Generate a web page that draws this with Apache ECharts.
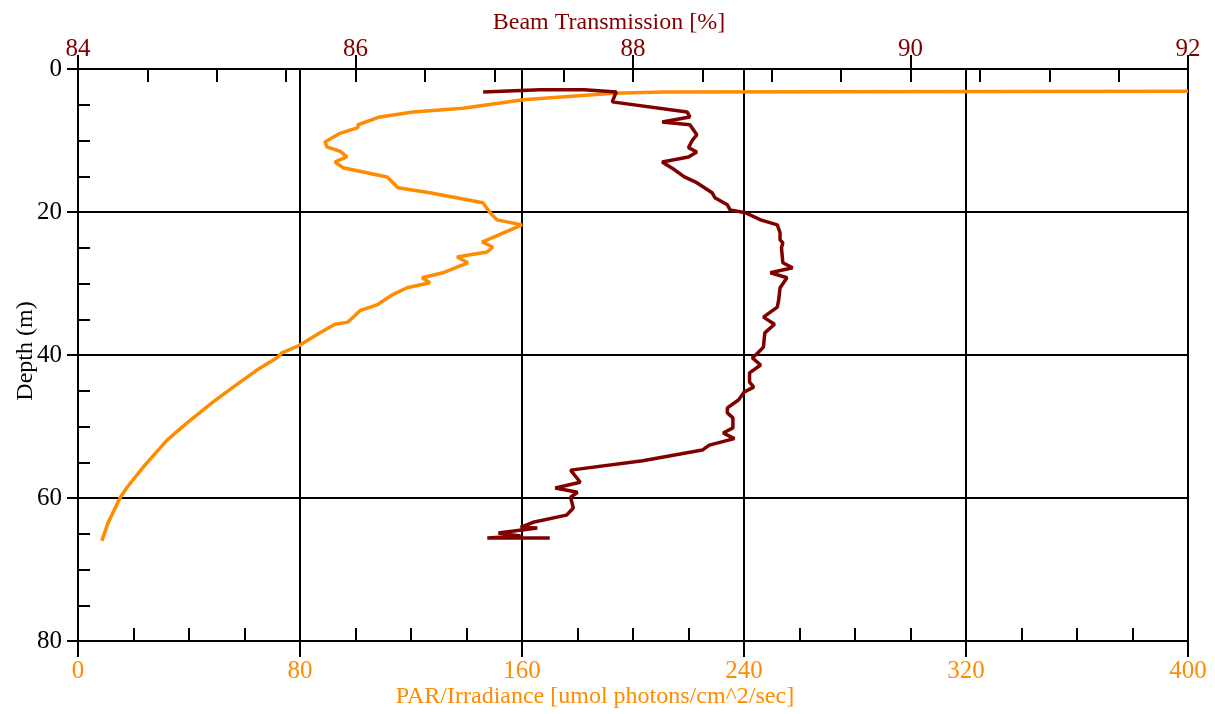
<!DOCTYPE html>
<html lang="en">
<head>
    <meta charset="UTF-8">
    <title>Depth profile</title>
    <script src="https://cdn.jsdelivr.net/npm/echarts@6.0.0/dist/echarts.min.js"></script>
    <style>
        html, body { margin: 0; padding: 0; background: #fff; }
        #chart { width: 1215px; height: 714px; }
    </style>
</head>
<body>
    <div id="chart"></div>
    <script>
        // PAR / irradiance profile (bottom axis)
        const parDepth = [3.1, 3.2, 3.4, 4.3, 5.5, 6.0, 6.7, 7.8, 8.2, 9.0, 10.2, 10.9, 11.5, 12.3, 13.0, 13.8,
            15.1, 16.6, 17.3, 18.7, 20.1, 21.1, 21.8, 24.2, 24.9, 25.6, 26.3, 27.1, 27.7, 28.5, 29.2, 29.9,
            30.6, 31.6, 33.0, 33.8, 35.4, 35.7, 36.9, 38.6, 39.7, 40.4, 42.1, 42.5, 43.8, 46.6, 49.5, 51.9,
            55.4, 58.5, 60.0, 63.5, 66.0]
        const parValue = [400, 211, 193, 160.4, 138.7, 120.7, 108.8, 100.9, 100.9, 94.4, 89.0, 89.7, 94.4, 96.9, 92.6, 95.5,
            111.4, 115.3, 126.8, 145.9, 148.5, 151.0, 160.0, 145.6, 149.5, 147.4, 136.6, 140.5, 136.6, 131.5, 124.0, 126.8,
            118.6, 113.2, 107.7, 101.6, 97.3, 92.6, 87.2, 80.0, 73.5, 71.7, 64.5, 63.1, 58.4, 48.6, 39.3, 32.1,
            24.1, 17.7, 15.1, 10.8, 8.6]

        // Beam transmission profile (top axis)
        const beamDepth = [3.2, 2.9, 2.9, 3.2, 4.6, 6.0, 6.7, 7.4, 7.8, 9.2, 9.9, 11.0, 11.6, 12.3, 13.0, 14.1,
            15.1, 15.9, 17.3, 18.0, 19.0, 19.7, 20.1, 21.1, 21.8, 22.9, 23.9, 24.3, 25.0, 27.1, 27.8, 28.5,
            29.2, 30.6, 32.3, 33.3, 34.7, 35.7, 36.9, 38.9, 39.9, 40.4, 41.4, 42.5, 43.8, 44.5, 45.2, 46.3,
            47.4, 48.1, 48.8, 50.2, 50.9, 51.7, 52.6, 53.3, 54.8, 56.1, 57.8, 58.6, 59.2, 59.9, 61.4, 62.4,
            63.4, 64.1, 64.2, 64.9, 65.3, 65.6, 65.6]
        const beamValue = [86.92, 87.33, 87.65, 87.88, 87.85, 88.39, 88.41, 88.21, 88.41, 88.46, 88.43, 88.40, 88.46, 88.40, 88.21, 88.30,
            88.37, 88.46, 88.57, 88.59, 88.68, 88.70, 88.81, 88.92, 89.04, 89.06, 89.06, 89.08, 89.07, 89.08, 89.15, 88.99,
            89.11, 89.06, 89.05, 89.04, 88.94, 89.02, 88.95, 88.94, 88.89, 88.86, 88.92, 88.84, 88.84, 88.87, 88.80, 88.76,
            88.68, 88.68, 88.72, 88.72, 88.65, 88.73, 88.55, 88.50, 88.07, 87.55, 87.62, 87.44, 87.60, 87.55, 87.57, 87.52,
            87.28, 87.19, 87.31, 87.03, 87.19, 86.95, 87.40]

        const orange = '#ff8c00'
        const darkRed = '#800000'
        const font = 'Liberation Serif'

        const chart = echarts.init(document.getElementById('chart'))

        const line = { lineStyle: { color: '#000', width: 2 } }
        const box = { left: 78, right: 27, top: 69, bottom: 73 }

        // second grid over the first one only carries the inward ticks
        const innerAxis = (gridIndex, position, min, max, interval, len) => ({
            type: 'value', gridIndex, position, min, max, interval,
            axisLine: { show: false, onZero: false },
            axisTick: { show: true, inside: true, length: len, ...line },
            minorTick: { show: true, splitNumber: 4, length: len, ...line },
            axisLabel: { show: false },
            splitLine: { show: false }
        })

        const option = {
            animation: false,
            backgroundColor: '#fff',
            textStyle: { fontFamily: font },
            grid: [
                { ...box, show: true, borderColor: '#000', borderWidth: 2, containLabel: false },
                { ...box, show: false, containLabel: false }
            ],
            xAxis: [{
                // PAR, bottom
                type: 'value', gridIndex: 0, position: 'bottom', min: 0, max: 400, interval: 80,
                name: 'PAR/Irradiance [umol photons/cm^2/sec]',
                nameLocation: 'middle', nameGap: 44, nameMoveOverlap: false,
                nameTextStyle: { color: orange, fontFamily: font, fontSize: 24, padding: [0, 76, 0, 0] },
                axisLine: { show: true, onZero: false, ...line },
                axisTick: { show: true, inside: false, length: 16, ...line },
                axisLabel: { color: orange, fontFamily: font, fontSize: 25, margin: 18 },
                splitLine: { show: true, lineStyle: { color: '#000', width: 2 } }
            }, {
                // beam transmission, top
                type: 'value', gridIndex: 0, position: 'top', min: 84, max: 92, interval: 2,
                name: 'Beam Transmission [%]',
                nameLocation: 'middle', nameGap: 34, nameMoveOverlap: false,
                nameTextStyle: { color: darkRed, fontFamily: font, fontSize: 24, padding: [0, 48, 0, 0] },
                axisLine: { show: true, onZero: false, ...line },
                axisTick: { show: true, inside: false, length: 14, ...line },
                axisLabel: { color: darkRed, fontFamily: font, fontSize: 25, margin: 7 },
                splitLine: { show: false }
            },
                innerAxis(1, 'bottom', 0, 400, 80, 13),
                innerAxis(1, 'top', 84, 92, 2, 13)
            ],
            yAxis: [{
                type: 'value', gridIndex: 0, position: 'left', min: 0, max: 80, interval: 20, inverse: true,
                name: 'Depth (m)',
                nameLocation: 'middle', nameGap: 40, nameMoveOverlap: false,
                nameTextStyle: { color: '#000', fontFamily: font, fontSize: 24, padding: [0, 0, 0, 8] },
                axisLine: { show: true, onZero: false, ...line },
                axisTick: { show: true, inside: false, length: 11, ...line },
                axisLabel: { color: '#000', fontFamily: font, fontSize: 25, margin: 16 },
                splitLine: { show: true, lineStyle: { color: '#000', width: 2 } }
            }, {
                ...innerAxis(1, 'left', 0, 80, 20, 12),
                inverse: true
            }],
            series: [{
                name: 'PAR',
                type: 'line',
                xAxisIndex: 0, yAxisIndex: 0,
                showSymbol: false,
                lineStyle: { color: orange, width: 3.5 },
                data: parValue.map((v, i) => [v, parDepth[i]])
            }, {
                name: 'Beam Transmission',
                type: 'line',
                xAxisIndex: 1, yAxisIndex: 0,
                showSymbol: false,
                lineStyle: { color: darkRed, width: 3.5 },
                data: beamValue.map((v, i) => [v, beamDepth[i]])
            }]
        }

        chart.setOption(option)
    </script>
</body>
</html>
